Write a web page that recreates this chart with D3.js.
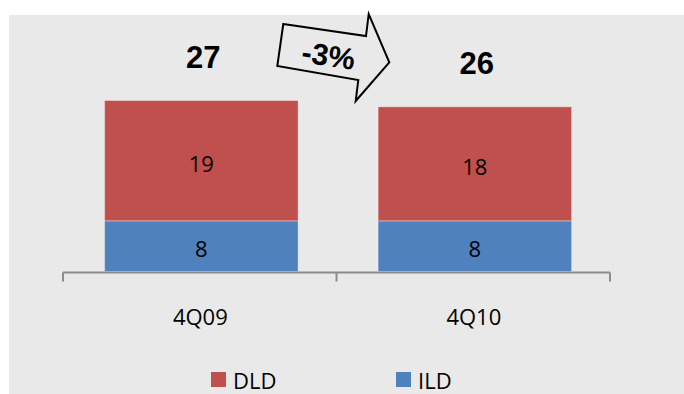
<!DOCTYPE html>
<html>
<head>
<meta charset="utf-8">
<script src="https://cdn.jsdelivr.net/npm/d3@7"></script>
<style>
  html, body { margin: 0; padding: 0; background: #fff; }
  svg { display: block; }
</style>
</head>
<body>
<svg id="chart" width="684" height="394"></svg>
<script>
// Quarterly line counts, stacked: ILD at the bottom, DLD on top
const categories = ["4Q09", "4Q10"];
const ildValues = [8, 8];
const dldValues = [19, 18];
const seriesNames = ["DLD", "ILD"];
const seriesColors = ["#c0504d", "#4f81bd"];
const changeLabel = "-3%";

const svg = d3.select("#chart");
const W = 684, H = 394;

// chart area background
svg.append("rect")
  .attr("x", 9).attr("y", 15)
  .attr("width", W - 9).attr("height", H - 15)
  .attr("fill", "#e9e9e9");

const x = d3.scaleBand()
  .domain(categories)
  .range([63, 610])
  .paddingInner(0.2925)
  .paddingOuter(0.14625)
  .align(0.52);

const y = d3.scaleLinear()
  .domain([0, 30])
  .range([271.5, 81.5]);

const rows = categories.map((c, i) => ({ cat: c, ILD: ildValues[i], DLD: dldValues[i] }));
const stack = d3.stack().keys(["ILD", "DLD"]);
const layers = stack(rows);
const colorOf = { DLD: seriesColors[0], ILD: seriesColors[1] };

const labelFont = "'Open Sans', 'DejaVu Sans', sans-serif";

const gLayers = svg.append("g")
  .selectAll("g")
  .data(layers)
  .join("g")
  .attr("fill", d => colorOf[d.key]);

gLayers.selectAll("rect")
  .data(d => d)
  .join("rect")
  .attr("x", d => x(d.data.cat))
  .attr("width", x.bandwidth())
  .attr("y", d => y(d[1]))
  .attr("height", d => y(d[0]) - y(d[1]))
  .attr("stroke", "rgba(255,255,255,0.35)")
  .attr("stroke-width", 1);

// segment value labels
gLayers.selectAll("text")
  .data(d => d.map(p => ({ p, key: d.key })))
  .join("text")
  .attr("x", d => x(d.p.data.cat) + x.bandwidth() / 2)
  .attr("y", d => (y(d.p[0]) + y(d.p[1])) / 2 + 11)
  .attr("text-anchor", "middle")
  .attr("font-family", labelFont)
  .attr("font-size", 22)
  .attr("fill", "#000")
  .text(d => d.p.data[d.key]);

// totals above bars
svg.append("g")
  .selectAll("text")
  .data(rows)
  .join("text")
  .attr("x", d => x(d.cat) + x.bandwidth() / 2 + 2)
  .attr("y", d => y(d.ILD + d.DLD) - 33)
  .attr("text-anchor", "middle")
  .attr("font-family", "'Liberation Sans', Arial, sans-serif")
  .attr("font-weight", "bold")
  .attr("font-size", 31)
  .attr("fill", "#000")
  .text(d => d.ILD + d.DLD);

// category axis with ticks at band boundaries
const axisG = svg.append("g").attr("stroke", "#8c8c8c").attr("stroke-width", 2).attr("fill", "none");
const [r0, r1] = x.range();
axisG.append("line")
  .attr("x1", r0).attr("x2", r1)
  .attr("y1", y(0) + 1).attr("y2", y(0) + 1);
const boundaries = [r0, (r0 + r1) / 2, r1];
axisG.selectAll("line.tick")
  .data(boundaries)
  .join("line")
  .attr("class", "tick")
  .attr("x1", d => d).attr("x2", d => d)
  .attr("y1", y(0) + 1).attr("y2", y(0) + 10);

svg.append("g")
  .selectAll("text")
  .data(categories)
  .join("text")
  .attr("x", d => x(d) + x.bandwidth() / 2 - 1)
  .attr("y", 325)
  .attr("text-anchor", "middle")
  .attr("font-family", labelFont)
  .attr("font-size", 22)
  .attr("fill", "#000")
  .text(d => d);

// change arrow between the two quarters
const arrowPts = [[283.3, 24], [366, 36], [368.7, 14], [389.3, 62.3], [355.7, 101], [358.3, 80], [277.3, 66]];
svg.append("path")
  .attr("d", d3.line()(arrowPts) + "Z")
  .attr("fill", "#e9e9e9")
  .attr("stroke", "#000")
  .attr("stroke-width", 2)
  .attr("stroke-linejoin", "miter");
svg.append("text")
  .attr("transform", "translate(327,66) rotate(8.5)")
  .attr("text-anchor", "middle")
  .attr("font-family", "'Liberation Sans', Arial, sans-serif")
  .attr("font-weight", "bold")
  .attr("font-size", 30)
  .attr("fill", "#000")
  .text(changeLabel);

// legend
const legendX = [211, 396];
const legend = svg.append("g")
  .selectAll("g")
  .data(seriesNames)
  .join("g")
  .attr("transform", (d, i) => `translate(${legendX[i]},372)`);
legend.append("rect")
  .attr("width", 15).attr("height", 15)
  .attr("fill", (d, i) => seriesColors[i]);
legend.append("text")
  .attr("x", 22).attr("y", 17)
  .attr("font-family", labelFont)
  .attr("font-size", 22)
  .attr("fill", "#000")
  .text(d => d);
</script>
</body>
</html>
